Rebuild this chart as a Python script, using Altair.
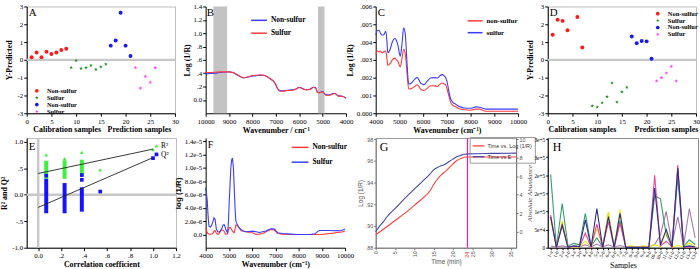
import altair as alt
import pandas as pd

SERIF = "Liberation Serif"
SANS = "Liberation Sans"

# ---------------- Panel A (score plot) ----------------
A_NS_CAL_X = [1, 2, 3, 4, 5, 6, 7, 8]
A_NS_CAL_Y = [0.15, 0.41, 0.15, 0.46, 0.33, 0.41, 0.56, 0.63]
A_S_CAL_X = [9, 10, 11, 12, 13, 14, 15, 16]
A_S_CAL_Y = [-0.43, -0.04, -0.48, -0.44, -0.31, -0.54, -0.39, -0.24]
A_NS_PRED_X = [17, 18, 19, 20, 21]
A_NS_PRED_Y = [0.80, 1.09, 2.65, 0.80, 0.22]
A_S_PRED_X = [22, 23, 24, 25, 26]
A_S_PRED_Y = [-0.43, -1.59, -0.93, -1.26, -0.44]

# ---------------- Panel D (score plot) ----------------
D_NS_CAL_X = [1, 2, 3, 4, 6, 7]
D_NS_CAL_Y = [1.41, 2.26, 2.19, 1.67, 2.41, 0.69]
D_S_CAL_X = [9, 10, 11, 12, 13, 14, 15, 16]
D_S_CAL_Y = [-2.59, -2.65, -2.41, -2.07, -1.30, -2.37, -1.80, -1.54]
D_NS_PRED_X = [17, 18, 19, 20, 21]
D_NS_PRED_Y = [1.31, 0.94, 1.06, 1.04, 0.06]
D_S_PRED_X = [22, 23, 24, 25, 26]
D_S_PRED_Y = [-1.19, -1.00, -0.74, -0.37, -1.19]

GROUPS = ["Non-sulfur|cal", "Sulfur|cal", "Non-sulfur|pred", "Sulfur|pred"]
GROUP_COLORS = ["#ff1a1a", "#1f8f1f", "#1a1aee", "#ff33ff"]
STAR = "M0,-1L0.24,-0.31L0.95,-0.31L0.38,0.12L0.59,0.81L0,0.4L-0.59,0.81L-0.38,0.12L-0.95,-0.31L-0.24,-0.31Z"
GROUP_SHAPES = ["circle", STAR, "circle", STAR]
SCORE_XTITLES = ["Calibration samples", "Prediction samples"]
A_XTITLE_AT = [8.2, 22.8]
D_XTITLE_AT = [7.0, 24.0]
ZERO = [0]

# ---------------- Panel B (raw spectra) ----------------
B_WN = [10000, 9800, 9600, 9400, 9200, 9000, 8850, 8700, 8550, 8400, 8250, 8100,
        7950, 7800, 7650, 7500, 7400, 7300, 7200, 7100, 7000, 6900, 6800, 6700,
        6500, 6300, 6150, 6000, 5850, 5700, 5550, 5400, 5300, 5220, 5150, 5080,
        5000, 4920, 4850, 4750, 4650, 4550, 4470, 4400, 4330, 4250, 4150, 4050, 4000]
B_SULFUR = [0.41, 0.41, 0.415, 0.42, 0.42, 0.42, 0.41, 0.39, 0.36, 0.335, 0.34, 0.355,
            0.365, 0.37, 0.375, 0.37, 0.355, 0.335, 0.31, 0.285, 0.23, 0.16, 0.13, 0.13,
            0.14, 0.145, 0.16, 0.185, 0.165, 0.15, 0.155, 0.185, 0.18, 0.11, 0.105, 0.115,
            0.12, 0.09, 0.07, 0.07, 0.075, 0.09, 0.095, 0.075, 0.055, 0.055, 0.05, 0.035, 0.025]
B_NONSULFUR = [0.39, 0.395, 0.40, 0.41, 0.415, 0.42, 0.41, 0.385, 0.355, 0.33, 0.335, 0.35,
               0.36, 0.365, 0.37, 0.365, 0.35, 0.33, 0.305, 0.28, 0.22, 0.155, 0.135, 0.135,
               0.145, 0.15, 0.165, 0.19, 0.17, 0.155, 0.16, 0.19, 0.185, 0.115, 0.11, 0.12,
               0.125, 0.095, 0.075, 0.075, 0.08, 0.095, 0.1, 0.08, 0.06, 0.06, 0.055, 0.04, 0.03]
B_BAND_FROM = [9670, 5200]
B_BAND_TO = [9080, 4920]

# ---------------- Panel C (difference spectra) ----------------
C_WN = [4000, 4070, 4140, 4200, 4255, 4330, 4425, 4470, 4510, 4610,
        4700, 4800, 4870, 4940, 5035, 5100, 5180, 5250, 5320, 5390,
        5460, 5530, 5640, 5745, 5820, 5890, 5960, 6030, 6170, 6310,
        6450, 6600, 6700, 6810, 6880, 6950, 7020, 7090, 7160, 7230,
        7380, 7520, 7730, 7940, 8090, 8230, 8370, 8510, 8650, 9000, 9500, 10000]
C_SULFUR = [.0044, .00465, .00466, .0045, .0044, .0044, .0046, .0041, .0034, .0036,
            .0040, .0042, .0041, .0038, .0032, .0038, .0048, .0044, .0028, .00164,
            .00165, .00174, .0019, .0020, .00188, .0017, .00165, .0016, .0018, .00198,
            .0020, .00198, .0021, .00217, .0021, .0020, .0017, .00117, .0008, .00064,
            .0005, .00038, .0003, .00028, .0003, .00036, .00034, .00028, .00023, .00023, .00023, .00023]
C_NONSULFUR = [.0033, .0035, .00345, .0035, .0034, .00345, .0035, .0031, .0027, .0028,
               .0030, .0031, .0030, .0029, .0026, .0030, .0036, .0033, .00226, .00136,
               .00137, .00141, .0015, .0016, .0015, .00136, .0013, .00128, .0014, .00155,
               .00155, .0015, .00162, .0017, .00165, .0016, .0013, .00094, .0006, .00047,
               .00035, .00025, .0002, .00017, .0002, .00023, .00023, .00017, .00011, .00011, .00011, .00011]

# ---------------- Panel E (permutation test) ----------------
E_R2_COL_X = [0.07, 0.23, 0.38]
E_R2_COL_LO = [0.30, 0.30, 0.35]
E_R2_COL_HI = [0.64, 0.65, 0.66]
E_R2_PT_X = [0.07, 0.23, 0.38, 0.54, 1.00, 1.03]
E_R2_PT_Y = [0.75, 0.68, 0.80, 0.47, 0.85, 0.92]
E_Q2_COL_X = [0.07, 0.23, 0.38]
E_Q2_COL_LO = [-0.35, -0.35, -0.32]
E_Q2_COL_HI = [0.30, 0.22, 0.14]
E_Q2_PT_X = [0.07, 0.38, 0.38, 0.54, 1.00, 1.03]
E_Q2_PT_Y = [0.36, 0.37, 0.28, 0.06, 0.69, 0.76]
E_FIT_X = [0.0, 1.0]
E_R2_FIT_Y = [0.40, 0.86]
E_Q2_FIT_Y = [-0.24, 0.70]
E_TAG_X = [1.07, 1.07]
E_TAG_Y = [0.91, 0.74]
E_TAGS = ["R²", "Q²"]

# ---------------- Panel F (loadings, units of 1e-6) ----------------
F_WN = [4000, 4035, 4070, 4110, 4145, 4215, 4270, 4320, 4360, 4405,
        4460, 4520, 4580, 4640, 4695, 4750, 4795, 4830, 4865, 4940,
        4975, 5010, 5050, 5085, 5120, 5155, 5195, 5230, 5265, 5300,
        5370, 5440, 5520, 5630, 5735, 5880, 6025, 6170, 6310, 6450,
        6600, 6700, 6820, 6900, 6965, 7040, 7110, 7300, 7470, 7700,
        7900, 8200, 8480, 8700, 8780, 8840, 8900, 9100, 9350, 9500,
        9640, 9800, 9900, 10000]
F_SULFUR = [7.0, 6.2, 5.0, 2.5, 1.2, 1.1, 1.5, 2.0, 2.5, 2.3,
            0.8, 0.4, 0.35, 0.6, 0.9, 1.4, 1.5, 1.2, 0.75, 0.25,
            1.5, 4.5, 7.5, 10.1, 11.2, 11.5, 10.0, 7.0, 4.0, 2.0,
            1.4, 1.0, 0.75, 0.5, 0.4, 0.45, 0.5, 0.4, 0.3, 0.4,
            0.5, 0.7, 0.86, 0.85, 0.8, 0.5, 0.25, 0.15, 0.1, 0.05,
            0.0, 0.0, 0.0, 0.1, 0.3, 0.5, 0.6, 0.6, 0.6, 0.55,
            0.6, 0.55, 0.65, 0.8]
F_NONSULFUR = [1.0, 0.6, 0.3, 0.1, 0.05, 0.0, 0.1, 0.2, 0.5, 0.6,
               0.2, 0.0, 0.1, 0.5, 0.7, 0.6, 0.5, 0.2, 0.0, 0.1,
               0.5, 1.0, 1.05, 0.9, 0.7, 0.5, 0.3, 0.25, 0.8, 1.4,
               1.3, 1.0, 0.6, 0.45, 0.4, 0.3, 0.25, 0.0, 0.05, 0.15,
               0.4, 0.6, 0.75, 0.72, 0.6, 0.35, 0.15, 0.05, 0.0, 0.0,
               0.0, 0.0, 0.0, 0.0, 0.0, 0.0, 0.0, 0.05, 0.15, 0.2,
               0.3, 0.35, 0.4, 0.5]

# ---------------- Panel G (time course) ----------------
G_T_LOG = [0, 2, 5, 8, 10, 12, 14, 15, 16, 17, 18, 20, 21, 22, 23, 23.8, 30, 36.4]
G_LOG = [.892, .897, .905, .913, .919, .925, .932, .938, .943, .947, .950, .957, .960, .962, .9633, .9635, .9635, .9635]
G_T_E = [0, 1, 2, 3, 5, 8, 10, 12, 14, 15, 16, 18, 20, 21, 22, 23, 24, 30, 36.4]
G_E = [0.0, 0.6, 1.1, 1.65, 2.5, 3.8, 4.6, 5.4, 6.2, 6.7, 6.95, 7.3, 7.85, 8.1, 8.25, 8.38, 8.42, 8.47, 8.5]
G_MARK_T = [23.8]
G_MARK_LABEL = ["24"]

# ---------------- Panel H (abundance, units of 1e5) ----------------
H_SAMPLES = ["1-a", "1-b", "2-a", "2-b", "3-a", "3-b", "4-a", "4-b", "5-a", "5-b",
             "6-a", "6-b", "7-a", "7-b", "8-a", "8-b", "9-a", "9-b", "10-a", "10-b",
             "11-a", "11-b", "12-a", "12-b", "13-a", "13-b"]
H_SERIES = ["s1", "s2", "s3", "s4", "s5"]
H_COLORS = ["#a57ca8", "#2f9e70", "#f0ea00", "#ec4596", "#2c2c90"]
H_PURPLE = [0.05, 0.02, 0.05, 0.02, 0.02, 0.02, 0.08, 0.02, 0.1, 0.02, 0.08, 0.02, 0.06,
            0.02, 0.02, 0.02, 0.02, 0.02, 0.09, 0.36, 1.0, 0.1, 0.85, 0.05, 1.08, 0.27]
H_GREEN = [2.02, 0.02, 1.22, 0.05, 0.12, 0.08, 0.95, 0.05, 0.27, 0.02, 0.95, 0.02, 0.75,
           0.02, 0.03, 0.02, 0.03, 0.02, 1.44, 1.35, 0.36, 0.02, 1.95, 0.03, 0.22, 0.09]
H_YELLOW = [0.77, 0.02, 0.74, 0.02, 0.03, 0.02, 0.18, 0.02, 0.54, 0.02, 0.99, 0.02, 1.05,
            0.02, 0.05, 0.02, 0.05, 0.02, 0.08, 0.03, 0.45, 0.02, 0.06, 0.02, 0.13, 0.02]
H_PINK = [0.9, 0.01, 0.65, 0.01, 0.04, 0.03, 0.4, 0.02, 0.65, 0.01, 0.72, 0.01, 0.68,
          0.01, 0.01, 0.01, 0.01, 0.01, 2.0, 0.05, 0.18, 0.02, 2.28, 0.02, 0.03, 0.02]
H_NAVY = [0.85, 0.01, 0.62, 0.01, 0.05, 0.03, 0.77, 0.02, 1.08, 0.01, 0.85, 0.01, 0.95,
          0.01, 0.01, 0.01, 0.01, 0.01, 1.65, 0.08, 0.5, 0.02, 2.2, 0.02, 0.05, 0.02]

# ---------------- layout ----------------
WID = [150, 142, 144, 150, 151, 141, 142, 152]
H1, H2 = 108, 111

INT_EXPR = "(datum.value < 0 ? '-' : '') + abs(datum.value)"


def dec_expr(zero_txt, fmt):
    return ("datum.value == 0 ? '%s' : (datum.value < 0 ? '-' : '') + "
            "replace(format(abs(datum.value), '%s'), '0.', '.')" % (zero_txt, fmt))


def letter(ch, dx, base_y, size=11):
    return alt.Chart(pd.DataFrame({"t": [ch]})).mark_text(
        font=SERIF, fontSize=size, align="left", baseline="alphabetic", color="black"
    ).encode(text="t:N", x=alt.value(dx), y=alt.value(base_y))


def line_legend(lx, ly, length=16, size=7.5, row_pad=0):
    return alt.Legend(orient="none", legendX=lx, legendY=ly, title=None,
                      labelFont=SERIF, labelFontSize=size, labelFontWeight="bold",
                      labelColor="black", symbolType="stroke", symbolSize=length * length,
                      symbolStrokeWidth=1.5, rowPadding=row_pad, padding=0, labelOffset=3)


def score_panel(ch, parts, w, h, lx, ly, title_at):
    xs, ys, gs = [], [], []
    for g, (px, py) in zip(GROUPS, parts):
        xs += px
        ys += py
        gs += [g] * len(px)
    df = pd.DataFrame({"sample": xs, "value": ys, "grp": gs})
    xsc = alt.Scale(domain=[0, 30], nice=False)
    ysc = alt.Scale(domain=[-3, 3], nice=False)
    xax = alt.Axis(values=[0, 5, 10, 15, 20, 25, 30], title=None)
    yax = alt.Axis(values=[-3, -2, -1, 0, 1, 2, 3], labelExpr=INT_EXPR,
                   title="Y-Predicted", titlePadding=4)
    leg = alt.Legend(orient="none", legendX=lx, legendY=ly, title=None,
                     labelExpr="split(datum.label, '|')[0]", labelFont=SERIF,
                     labelFontSize=6.5, labelFontWeight="bold", labelColor="black",
                     symbolSize=14, rowPadding=-1, padding=0, labelOffset=7)
    zero = alt.Chart(pd.DataFrame({"z": ZERO})).mark_rule(
        color="#c8c8c8", strokeWidth=2.5).encode(y=alt.Y("z:Q", scale=ysc, axis=yax))
    pts = alt.Chart(df).mark_point(filled=True, opacity=1, size=16).encode(
        x=alt.X("sample:Q", scale=xsc, axis=xax),
        y=alt.Y("value:Q", scale=ysc, axis=yax),
        color=alt.Color("grp:N", scale=alt.Scale(domain=GROUPS, range=GROUP_COLORS), legend=leg),
        shape=alt.Shape("grp:N", scale=alt.Scale(domain=GROUPS, range=GROUP_SHAPES), legend=leg),
    )
    ttl = alt.Chart(pd.DataFrame({"x": title_at, "t": SCORE_XTITLES})).mark_text(
        font=SERIF, fontSize=8, fontWeight="bold", baseline="middle", color="black"
    ).encode(x=alt.X("x:Q", scale=xsc, axis=xax), y=alt.value(h + 17), text="t:N")
    return alt.layer(zero, pts, ttl, letter(ch, 2, 9.5)).properties(
        width=w, height=h, view=alt.ViewBackground(stroke="#bdbdbd"))


# ---- A ----
panel_a = score_panel("A", [(A_NS_CAL_X, A_NS_CAL_Y), (A_S_CAL_X, A_S_CAL_Y),
                            (A_NS_PRED_X, A_NS_PRED_Y), (A_S_PRED_X, A_S_PRED_Y)],
                      WID[0], H1, 7, 82, A_XTITLE_AT)

# ---- B ----
nB = len(B_WN)
dfB = pd.DataFrame({"wn": B_WN + B_WN, "v": B_NONSULFUR + B_SULFUR,
                    "s": ["Non-sulfur"] * nB + ["Sulfur"] * nB})
xB = alt.Scale(domain=[4000, 10000], reverse=True, nice=False)
yB = alt.Scale(domain=[-0.2, 1.4], nice=False)
xaxB = alt.Axis(values=[4000, 5000, 6000, 7000, 8000, 9000, 10000], format="d",
                title="Wavenumber / cm⁻¹")
bandsB = alt.Chart(pd.DataFrame({"a": B_BAND_FROM, "b": B_BAND_TO})).mark_rect(
    color="#c3c3c3").encode(x=alt.X("a:Q", scale=xB, axis=xaxB), x2="b:Q")
linesB = alt.Chart(dfB).mark_line(strokeWidth=1.1, interpolate="monotone").encode(
    x=alt.X("wn:Q", scale=xB, axis=xaxB),
    y=alt.Y("v:Q", scale=yB, axis=alt.Axis(values=[0, 0.2, 0.4, 0.6, 0.8, 1.0, 1.2, 1.4],
                                           labelExpr=dec_expr("0.0", ".1f"), title="Log (1/R)")),
    color=alt.Color("s:N", scale=alt.Scale(domain=["Non-sulfur", "Sulfur"],
                                           range=["#3b3bff", "#ff3b3b"]),
                    legend=line_legend(45, 5)),
)
panel_b = alt.layer(bandsB, linesB, letter("B", 1, 9.5)).properties(width=WID[1], height=H1)

# ---- C ----
nC = len(C_WN)
dfC = pd.DataFrame({"wn": C_WN + C_WN, "v": C_NONSULFUR + C_SULFUR,
                    "s": ["non-sulfur"] * nC + ["sulfur"] * nC})
linesC = alt.Chart(dfC).mark_line(strokeWidth=1.1, interpolate="monotone").encode(
    x=alt.X("wn:Q", scale=alt.Scale(domain=[4000, 10000], nice=False),
            axis=alt.Axis(values=[4000, 5000, 6000, 7000, 8000, 9000, 10000], format="d",
                          title="Wavenumber (cm⁻¹)")),
    y=alt.Y("v:Q", scale=alt.Scale(domain=[0, 0.006], nice=False),
            axis=alt.Axis(values=[0, 0.001, 0.002, 0.003, 0.004, 0.005, 0.006],
                          labelExpr=dec_expr("0.000", ".3f"), title="Log (1/R)")),
    color=alt.Color("s:N", scale=alt.Scale(domain=["non-sulfur", "sulfur"],
                                           range=["#ff3b3b", "#3b3bff"]),
                    legend=line_legend(92, 6, length=15, size=7)),
)
panel_c = alt.layer(linesC, letter("C", 2, 9.5)).properties(width=WID[2], height=H1)

# ---- D ----
panel_d = score_panel("D", [(D_NS_CAL_X, D_NS_CAL_Y), (D_S_CAL_X, D_S_CAL_Y),
                            (D_NS_PRED_X, D_NS_PRED_Y), (D_S_PRED_X, D_S_PRED_Y)],
                      WID[3], H1, 108, 4, D_XTITLE_AT)

# ---- E ----
LIME = "#3ef03e"
BLUE_E = "#1414ff"
xE = alt.Scale(domain=[-0.1, 1.2], nice=False)
yE = alt.Scale(domain=[-1.0, 1.07], nice=False)
xaxE = alt.Axis(values=[0, 0.2, 0.4, 0.6, 0.8, 1.0, 1.2], labelExpr=dec_expr("0.0", ".1f"),
                title="Correlation coefficient")
yaxE = alt.Axis(values=[-1, -0.5, 0, 0.5, 1], labelExpr=dec_expr("0.0", ".1f"),
                title="R² and Q²", titlePadding=3)
zeroH = alt.Chart(pd.DataFrame({"z": ZERO})).mark_rule(color="#c8c8c8", strokeWidth=2.5).encode(
    y=alt.Y("z:Q", scale=yE, axis=yaxE))
zeroV = alt.Chart(pd.DataFrame({"z": ZERO})).mark_rule(color="#c8c8c8", strokeWidth=2.5).encode(
    x=alt.X("z:Q", scale=xE, axis=xaxE))
r2col = alt.Chart(pd.DataFrame({"x": E_R2_COL_X, "lo": E_R2_COL_LO, "hi": E_R2_COL_HI})).mark_rule(
    color=LIME, strokeWidth=4).encode(x=alt.X("x:Q", scale=xE, axis=xaxE),
                                      y=alt.Y("lo:Q", scale=yE, axis=yaxE), y2="hi:Q")
r2pt = alt.Chart(pd.DataFrame({"x": E_R2_PT_X, "y": E_R2_PT_Y})).mark_point(
    shape="triangle-up", filled=True, opacity=1, size=14, color=LIME).encode(
    x=alt.X("x:Q", scale=xE, axis=xaxE), y=alt.Y("y:Q", scale=yE, axis=yaxE))
q2col = alt.Chart(pd.DataFrame({"x": E_Q2_COL_X, "lo": E_Q2_COL_LO, "hi": E_Q2_COL_HI})).mark_rule(
    color=BLUE_E, strokeWidth=4).encode(x=alt.X("x:Q", scale=xE, axis=xaxE),
                                        y=alt.Y("lo:Q", scale=yE, axis=yaxE), y2="hi:Q")
q2pt = alt.Chart(pd.DataFrame({"x": E_Q2_PT_X, "y": E_Q2_PT_Y})).mark_point(
    shape="square", filled=True, opacity=1, size=14, color=BLUE_E).encode(
    x=alt.X("x:Q", scale=xE, axis=xaxE), y=alt.Y("y:Q", scale=yE, axis=yaxE))
dfFit = pd.DataFrame({"x": E_FIT_X + E_FIT_X, "y": E_R2_FIT_Y + E_Q2_FIT_Y,
                      "k": ["R2", "R2", "Q2", "Q2"]})
fits = alt.Chart(dfFit).mark_line(color="#222222", strokeWidth=0.9).encode(
    x=alt.X("x:Q", scale=xE, axis=xaxE), y=alt.Y("y:Q", scale=yE, axis=yaxE), detail="k:N")
tags = alt.Chart(pd.DataFrame({"x": E_TAG_X, "y": E_TAG_Y, "t": E_TAGS})).mark_text(
    font=SERIF, fontSize=7.5, align="left", color="black").encode(
    x=alt.X("x:Q", scale=xE, axis=xaxE), y=alt.Y("y:Q", scale=yE, axis=yaxE), text="t:N")
panel_e = alt.layer(zeroH, zeroV, r2col, r2pt, q2col, q2pt, fits, tags,
                    letter("E", 2, 12.5)).properties(
    width=WID[4], height=H2, view=alt.ViewBackground(stroke="#bdbdbd"))

# ---- F ----
nF = len(F_WN)
dfF = pd.DataFrame({"wn": F_WN + F_WN, "v": F_NONSULFUR + F_SULFUR,
                    "s": ["Non-sulfur"] * nF + ["Sulfur"] * nF})
linesF = alt.Chart(dfF).mark_line(strokeWidth=1.1).encode(
    x=alt.X("wn:Q", scale=alt.Scale(domain=[4000, 10000], nice=False),
            axis=alt.Axis(values=[4000, 5000, 6000, 7000, 8000, 9000, 10000], format="d",
                          title="Wavenumber  (cm⁻¹)")),
    y=alt.Y("v:Q", scale=alt.Scale(domain=[-2, 14.5], nice=False),
            axis=alt.Axis(values=[0, 2, 4, 6, 8, 10, 12, 14],
                          labelExpr="datum.value == 0 ? '0.0' : format(datum.value * 1e-6, '.1e')",
                          title="log (1/R)", titleFont=SANS)),
    color=alt.Color("s:N", scale=alt.Scale(domain=["Non-sulfur", "Sulfur"],
                                           range=["#ff3b3b", "#3b3bff"]),
                    legend=line_legend(86, 0, length=17, size=7.5, row_pad=2)),
)
panel_f = alt.layer(linesF, letter("F", 2, 10, size=10)).properties(width=WID[5], height=H2)

# ---- G ----
GRAY = "#555555"
xG = alt.Scale(domain=[0, 36.4], nice=False)
g_series = ["Time vs. Log (1/R)", "Time vs E"]
colG = alt.Color("s:N", scale=alt.Scale(domain=g_series, range=["#ff4040", "#4646a6"]),
                 legend=alt.Legend(orient="none", legendX=95, legendY=-1, title=None,
                                   labelFont=SANS, labelFontSize=5.5, labelColor="#333333",
                                   symbolType="stroke", symbolSize=140, symbolStrokeWidth=1.3,
                                   rowPadding=0, padding=2, labelOffset=2,
                                   strokeColor="#9a9a9a"))
gaxis = dict(labelFont=SANS, labelFontSize=5.5, labelColor=GRAY, titleFont=SANS,
             titleFontSize=6.5, titleFontWeight="normal", titleColor=GRAY,
             domainColor="#777777", tickColor="#777777", tickSize=2)
xaxG = alt.Axis(values=[0, 5, 10, 15, 20, 25, 30, 35], labelAngle=-90, title="Time (min)", **gaxis)
redG = alt.Chart(pd.DataFrame({"t": G_T_LOG, "v": G_LOG, "s": [g_series[0]] * len(G_T_LOG)})).mark_line(
    strokeWidth=1.1, interpolate="monotone").encode(
    x=alt.X("t:Q", scale=xG, axis=xaxG),
    y=alt.Y("v:Q", scale=alt.Scale(domain=[0.88, 0.981], nice=False),
            axis=alt.Axis(orient="left", values=[0.88, 0.90, 0.92, 0.94, 0.96, 0.98],
                          labelExpr=dec_expr("0.00", ".2f"), title="Log (1/R)", **gaxis)),
    color=colG)
blueG = alt.Chart(pd.DataFrame({"t": G_T_E, "e": G_E, "s": [g_series[1]] * len(G_T_E)})).mark_line(
    strokeWidth=1.1, interpolate="monotone").encode(
    x=alt.X("t:Q", scale=xG, axis=xaxG),
    y=alt.Y("e:Q", scale=alt.Scale(domain=[-1.73, 10.14], nice=False),
            axis=alt.Axis(orient="right", values=[0, 2, 4, 6, 8, 10], title=None, **gaxis)),
    color=colG)
vlineG = alt.Chart(pd.DataFrame({"t": G_MARK_T})).mark_rule(color="#e8209a", strokeWidth=1.2).encode(
    x=alt.X("t:Q", scale=xG, axis=xaxG))
labG = alt.Chart(pd.DataFrame({"t": G_MARK_T, "l": G_MARK_LABEL})).mark_text(
    font=SANS, fontSize=5.5, color="#ff2020", angle=270, align="right", baseline="middle").encode(
    x=alt.X("t:Q", scale=xG, axis=xaxG), y=alt.value(H2 + 4), text="l:N")
panel_g = alt.layer(redG, blueG, vlineG, labG, letter("G", 4, 13, size=12)).resolve_scale(
    y="independent").properties(width=WID[6], height=H2,
                                view=alt.ViewBackground(stroke="#9a9a9a"))

# ---- H ----
h_vals = [H_PURPLE, H_GREEN, H_YELLOW, H_PINK, H_NAVY]
rowsH = []
for name, vals in zip(H_SERIES, h_vals):
    for smp, v in zip(H_SAMPLES, vals):
        rowsH.append({"sample": smp, "v": v * 1e5, "series": name})
dfH = pd.DataFrame(rowsH)
linesH = alt.Chart(dfH).mark_line(strokeWidth=1.1).encode(
    x=alt.X("sample:N", sort=H_SAMPLES, scale=alt.Scale(type="point", padding=0.5),
            axis=alt.Axis(labelAngle=-65, labelFontSize=5, title="Samples", titleFontWeight="normal",
                          tickSize=2, titlePadding=1)),
    y=alt.Y("v:Q", scale=alt.Scale(domain=[0, 303000], nice=False),
            axis=alt.Axis(values=[0, 50000, 100000, 150000, 200000, 250000, 300000],
                          labelExpr="datum.value == 0 ? '0' : format(datum.value, '.0e')",
                          labelFontSize=5.5, tickSize=2, title="Absolute Abundance",
                          titleFontStyle="italic", titleFontWeight="normal", titleColor=GRAY,
                          titleFontSize=7, titlePadding=1)),
    color=alt.Color("series:N", scale=alt.Scale(domain=H_SERIES, range=H_COLORS), legend=None),
    order=alt.Order("series:N"),
)
panel_h = alt.layer(linesH, letter("H", 5, 13, size=12)).properties(
    width=WID[7], height=H2, view=alt.ViewBackground(stroke="#8a8a8a"))

chart = alt.concat(panel_a, panel_b, panel_c, panel_d, panel_e, panel_f, panel_g, panel_h,
                   columns=4, spacing={"row": 25, "column": 30}, bounds="flush", align="none")
chart = chart.resolve_scale(color="independent", shape="independent").properties(
    padding={"left": 0, "top": 0, "right": 0, "bottom": 0}
).configure_view(stroke=None).configure_axis(
    labelFont=SERIF, labelFontSize=7, labelColor="black", titleFont=SERIF, titleFontSize=8,
    titleFontWeight="bold", titleColor="black", domainColor="black", tickColor="black",
    tickSize=3, grid=False, labelPadding=1, titlePadding=2, labelOverlap=False,
    labelFlush=False, domainWidth=1, tickWidth=1
).configure_legend(labelLimit=200)

chart.save("out.html", embed_options={"renderer": "svg", "actions": False})
